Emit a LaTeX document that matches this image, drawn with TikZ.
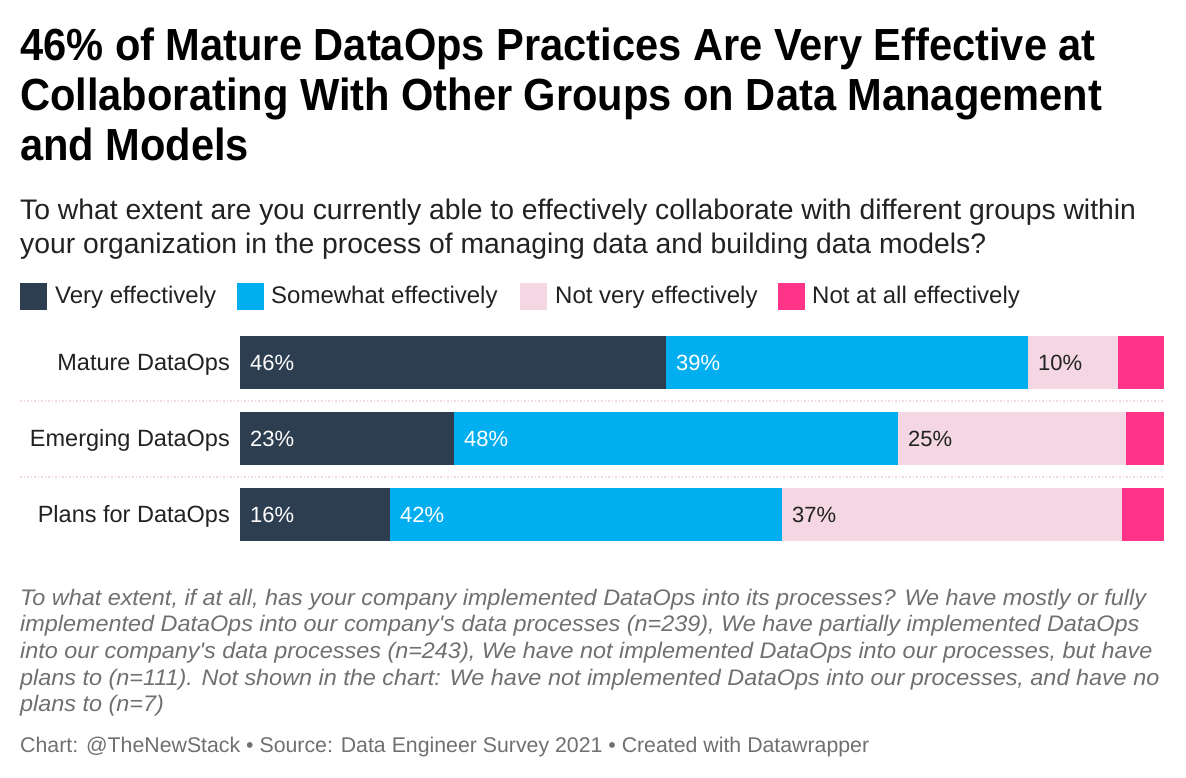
\documentclass[tikz,border=0pt]{standalone}
\usepackage{fontspec}
\setmainfont{Liberation Sans}
\newfontface\titlefont{Liberation Sans Bold}[FakeStretch=0.925]
\newfontface\notefont{Liberation Sans Italic}[FakeStretch=1.04]
\definecolor{cdark}{HTML}{2D3E50}
\definecolor{cblue}{HTML}{01AFF0}
\definecolor{clight}{HTML}{F5D7E3}
\definecolor{cpink}{HTML}{FF3388}
\definecolor{ctext}{HTML}{222222}
\definecolor{cnote}{HTML}{707070}
\begin{document}
\begin{tikzpicture}[x=1pt,y=-1pt,
  txt/.style={inner sep=0pt,anchor=base west},
  ttl/.style={txt,font=\fontsize{45}{50}\titlefont,text=black},
  sub/.style={txt,font=\fontsize{28.3}{32}\selectfont,text=ctext},
  leg/.style={txt,font=\fontsize{24}{28}\selectfont,text=ctext},
  rowlab/.style={inner sep=0pt,anchor=base east,font=\fontsize{23.5}{28}\selectfont,text=ctext},
  pct/.style={txt,font=\fontsize{22}{26}\selectfont},
  note/.style={txt,font=\fontsize{22.5}{26}\notefont,text=cnote},
  sep/.style={draw=clight,line width=1.5pt,dotted}]
\path[use as bounding box,fill=white] (0,0) rectangle (1186,778);
% title
\node[ttl] (t1) at (20,61) {46\% of Mature DataOps Practices Are Very Effective at};
\node[ttl] (t2) at (20,111) {Collaborating With Other Groups on Data Management};
\node[ttl] (t3) at (20,161) {and Models};
% subtitle
\node[sub] (s1) at (20,220) {To what extent are you currently able to effectively collaborate with different groups within};
\node[sub] (s2) at (20,254) {your organization in the process of managing data and building data models?};
% legend
\fill[cdark] (20,283) rectangle (47,310);
\node[leg] (l1) at (55,303) {Very effectively};
\fill[cblue] (237,283) rectangle (264,310);
\node[leg] (l2) at (271,303) {Somewhat effectively};
\fill[clight] (520,283) rectangle (547,310);
\node[leg] (l3) at (555,303) {Not very effectively};
\fill[cpink] (778,283) rectangle (805,310);
\node[leg] (l4) at (812,303) {Not at all effectively};
% row 1
\fill[cdark] (240,336) rectangle (666,389);
\fill[cblue] (666,336) rectangle (1028,389);
\fill[clight] (1028,336) rectangle (1118,389);
\fill[cpink] (1118,336) rectangle (1164,389);
\node[rowlab] (r1) at (230,370.5) {Mature DataOps};
\node[pct,text=white] (p11) at (250,370.5) {46\%};
\node[pct,text=white] (p12) at (676,370.5) {39\%};
\node[pct,text=ctext] (p13) at (1038,370.5) {10\%};
\draw[sep] (20,401) -- (1164,401);
% row 2
\fill[cdark] (240,412) rectangle (454,465);
\fill[cblue] (454,412) rectangle (898,465);
\fill[clight] (898,412) rectangle (1126,465);
\fill[cpink] (1126,412) rectangle (1164,465);
\node[rowlab] (r2) at (230,446.5) {Emerging DataOps};
\node[pct,text=white] (p21) at (250,446.5) {23\%};
\node[pct,text=white] (p22) at (464,446.5) {48\%};
\node[pct,text=ctext] (p23) at (908,446.5) {25\%};
\draw[sep] (20,477) -- (1164,477);
% row 3
\fill[cdark] (240,488) rectangle (390,541);
\fill[cblue] (390,488) rectangle (782,541);
\fill[clight] (782,488) rectangle (1122,541);
\fill[cpink] (1122,488) rectangle (1164,541);
\node[rowlab] (r3) at (230,522.5) {Plans for DataOps};
\node[pct,text=white] (p31) at (250,522.5) {16\%};
\node[pct,text=white] (p32) at (400,522.5) {42\%};
\node[pct,text=ctext] (p33) at (792,522.5) {37\%};
% notes
\node[note] (n1) at (20,605) {To what extent, if at all, has your company implemented DataOps into its processes? We have mostly or fully};
\node[note] (n2) at (20,631.7) {implemented DataOps into our company's data processes (n=239), We have partially implemented DataOps};
\node[note] (n3) at (20,658.4) {into our company's data processes (n=243), We have not implemented DataOps into our processes, but have};
\node[note] (n4) at (20,685.1) {plans to (n=111). Not shown in the chart: We have not implemented DataOps into our processes, and have no};
\node[note] (n5) at (20,711.8) {plans to (n=7)};
\node[txt,font=\fontsize{21.3}{24}\selectfont,text=cnote] (src) at (20,752) {Chart: @TheNewStack • Source: Data Engineer Survey 2021 • Created with Datawrapper};
\end{tikzpicture}
\end{document}
